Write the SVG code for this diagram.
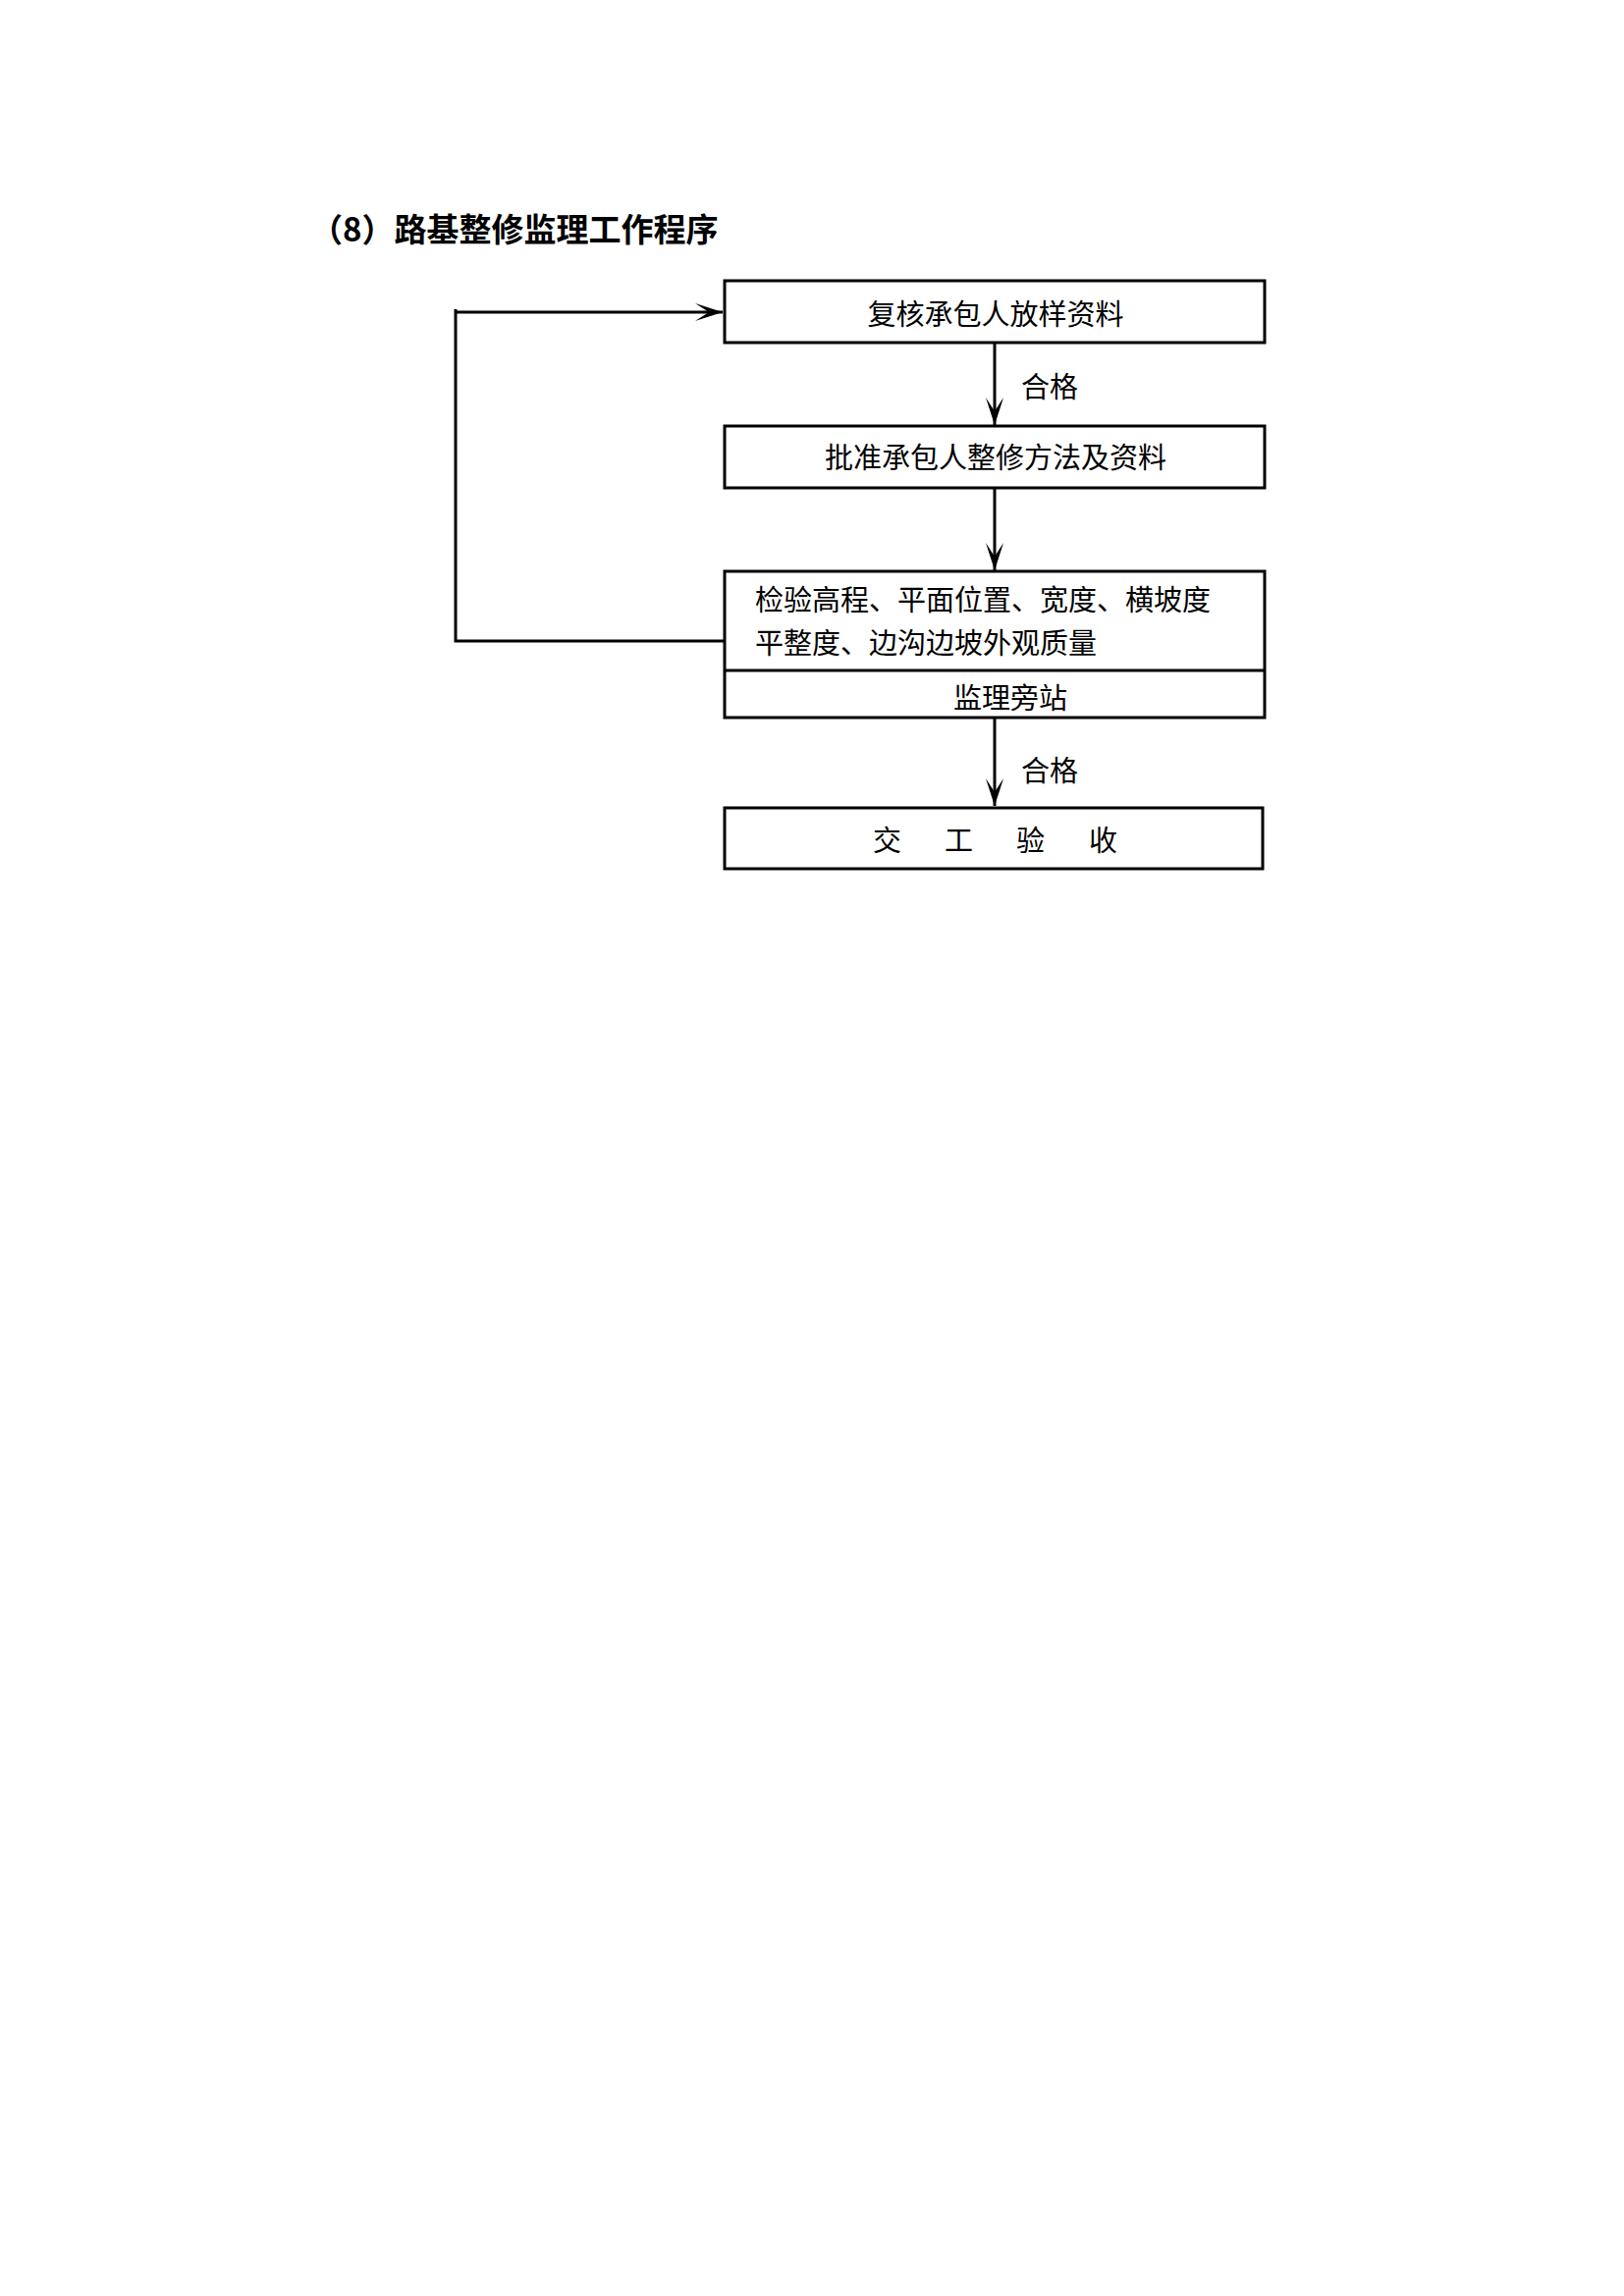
<svg xmlns="http://www.w3.org/2000/svg" width="1654" height="2339" viewBox="0 0 1654 2339">
<style>
  .box { fill: #ffffff; stroke: #000000; stroke-width: 3; }
  .line { fill: none; stroke: #000000; stroke-width: 3; }
  .t { font-family: "Noto Sans CJK SC", "Liberation Sans", sans-serif; font-size: 29px; fill: #000000; }
  .title { font-family: "Noto Sans CJK SC", "Liberation Sans", sans-serif; font-size: 33px; font-weight: bold; fill: #000000; }
  .c { text-anchor: middle; }
</style>
<defs>
  <marker id="arr" markerUnits="userSpaceOnUse" viewBox="-30 -10 32 20" refX="0" refY="0" markerWidth="32" markerHeight="20" orient="auto">
    <path d="M0,0 L-28,-9 L-14,0 L-28,9 Z" fill="#000000"/>
  </marker>
</defs>
<rect x="0" y="0" width="1654" height="2339" fill="#ffffff"/>

<text class="title" x="316" y="246">（8）路基整修监理工作程序</text>

<g id="connectors">
  <line class="line" x1="1013" y1="350" x2="1013" y2="433" marker-end="url(#arr)"/>
  <line class="line" x1="1013" y1="498" x2="1013" y2="581" marker-end="url(#arr)"/>
  <line class="line" x1="1013" y1="732" x2="1013" y2="821" marker-end="url(#arr)"/>
  <path class="line" d="M737,653 H464 V315"/>
  <line class="line" x1="464" y1="318" x2="736" y2="318" marker-end="url(#arr)"/>
  <text class="t" x="1040" y="405">合格</text>
  <text class="t" x="1040" y="796">合格</text>
</g>

<g id="node1">
  <rect class="box" x="738" y="286" width="550" height="63"/>
  <text class="t c" x="1014" y="331">复核承包人放样资料</text>
</g>

<g id="node2">
  <rect class="box" x="738" y="434" width="550" height="63"/>
  <text class="t c" x="1014" y="477">批准承包人整修方法及资料</text>
</g>

<g id="node3">
  <rect class="box" x="738" y="582" width="550" height="149"/>
  <line class="line" x1="738" y1="683" x2="1288" y2="683"/>
  <text class="t" x="769" y="622">检验高程、平面位置、宽度、横坡度</text>
  <text class="t" x="769" y="666">平整度、边沟边坡外观质量</text>
  <text class="t" x="971" y="722">监理旁站</text>
</g>

<g id="node4">
  <rect class="box" x="738" y="823" width="548" height="62"/>
  <text class="t" x="889 962 1035 1109" y="867">交工验收</text>
</g>
</svg>
